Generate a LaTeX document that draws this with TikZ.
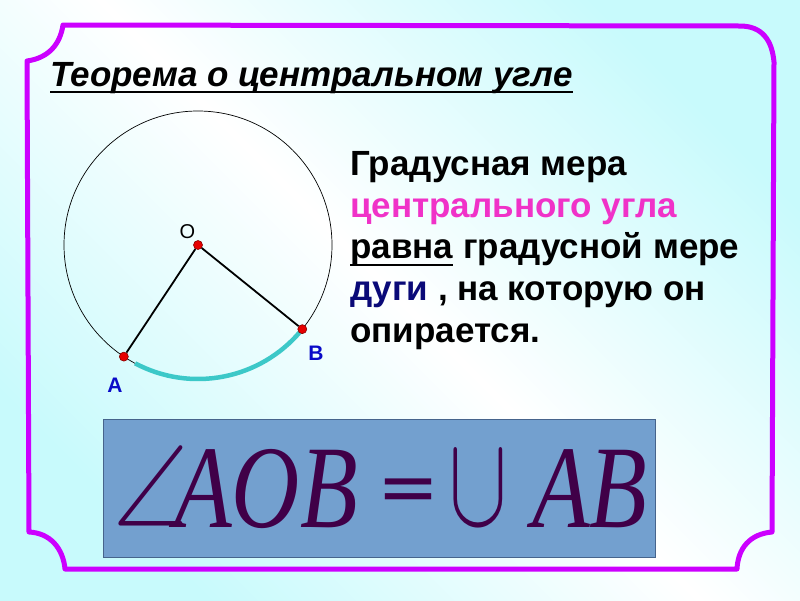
\documentclass[tikz,border=0pt]{standalone}
\usepackage{fontspec}
\usepackage{graphicx}
\setmainfont{Liberation Sans}
\newfontfamily\serf{Liberation Serif}
\newfontfamily\symf{DejaVu Sans}
\newfontfamily\lmm{latinmodern-math.otf}
\definecolor{bgc}{RGB}{200,250,252}
\definecolor{framec}{RGB}{204,0,255}
\definecolor{pinkc}{RGB}{240,50,200}
\definecolor{navyc}{RGB}{10,10,120}
\definecolor{bluec}{RGB}{10,10,200}
\definecolor{cyanarc}{RGB}{60,200,200}
\definecolor{boxc}{RGB}{115,160,207}
\definecolor{boxline}{RGB}{70,100,140}
\definecolor{formc}{RGB}{64,0,72}
\definecolor{dotc}{RGB}{230,0,0}
\begin{document}
\begin{tikzpicture}[x=1pt,y=-1pt,
  txt/.style={inner sep=0pt, anchor=base west, font=\fontsize{35}{40}\selectfont\bfseries},
  ptdot/.style={circle, fill=dotc, draw=dotc!60!black, line width=0.6pt, inner sep=0pt, minimum size=9pt},
  ptlabel/.style={inner sep=0pt, font=\fontsize{21}{24}\selectfont\bfseries, text=bluec},
  form/.style={inner sep=0pt, text=formc},
  letters/.style={form, anchor=base west, font=\fontsize{118}{130}\selectfont\serf\itshape}]
\useasboundingbox (0,0) rectangle (800,600);
\shade[left color=bgc, right color=bgc, middle color=white, shading angle=-45] (0,0) rectangle (800,600);
% frame
\draw[framec, line width=5pt, line join=round]
  (63,25) -- (740,26) .. controls (762,26) and (772,40) .. (774,62)
  -- (772,532) .. controls (750,534) and (738,548) .. (737,569)
  -- (65,569) .. controls (63,548) and (50,533) .. (29,532)
  -- (27,61) .. controls (48,58) and (60,45) .. (63,25) -- cycle;
% title
\node[inner sep=0pt, anchor=base west, font=\fontsize{35}{40}\selectfont\bfseries\itshape] (title) at (50,86) {Теорема о центральном угле};
\draw[line width=2pt] ([yshift=-6pt]title.base west) -- ([yshift=-6pt]title.base east);
% statement
\node[txt] (l1) at (350,175) {Градусная мера};
\node[txt, text=pinkc] (l2) at (350,217) {центрального угла};
\node[txt] (l3a) at (350,258.5) {равна};
\node[txt] (l3b) at ([xshift=9.7pt]l3a.base east) {градусной мере};
\node[txt] (l4) at (350,300) {\textcolor{navyc}{дуги} , на которую он};
\node[txt] (l5) at (350,342) {опирается.};
\draw[line width=2pt] ([yshift=-6.5pt]l3a.base west) -- ([yshift=-6.5pt]l3a.base east);
% circle
\coordinate (c) at (198,245);
\draw[line width=0.7pt] (c) circle[radius=134];
\draw[cyanarc, line width=4.5pt] ([shift={(118:134)}]c) arc[start angle=118, end angle=40, radius=134];
\node[ptdot] (O) at (c) {};
\node[ptdot] (A) at ([shift={(123.6:134)}]c) {};
\node[ptdot] (B) at ([shift={(38.9:134)}]c) {};
\draw[line width=1.8pt] (O) -- (A);
\draw[line width=1.8pt] (O) -- (B);
\node[inner sep=0pt, font=\fontsize{20}{24}\selectfont] (Olab) at (187.5,232) {O};
\node[ptlabel] (Alab) at (115,385) {A};
\node[ptlabel] (Blab) at (316,353.5) {B};
% formula
\node[draw=boxline, fill=boxc, line width=0.8pt, minimum width=552pt, minimum height=138pt, inner sep=0pt] (box) at (379,488) {};
\node[form, anchor=south] (ang) at (151,528) {\scalebox{0.85}[1]{\lmm\fontsize{113}{113}\selectfont ∠}};
\node[letters] (aob) at (174,527) {\scalebox{0.8}[1]{AOB}};
\node[form, anchor=center] (eq) at (408,496) {\symf\fontsize{74}{74}\selectfont =};
\node[form, anchor=south] (cup) at (478,528) {\scalebox{0.85}[1.23]{\lmm\fontsize{105}{105}\selectfont ∪}};
\node[letters] (ab) at (532,527) {\scalebox{0.8}[1]{AB}};
\end{tikzpicture}
\end{document}
